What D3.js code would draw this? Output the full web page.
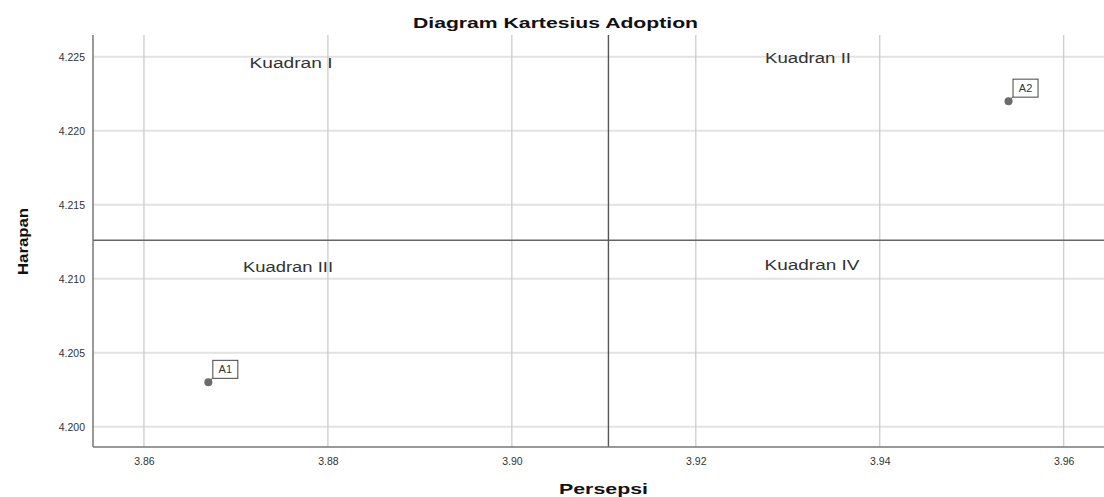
<!DOCTYPE html>
<html><head><meta charset="utf-8">
<script src="https://cdn.jsdelivr.net/npm/d3@7"></script>
<style>body{margin:0;background:#fff}svg{display:block;font-family:"Liberation Sans",Arial,sans-serif}</style>
</head><body><svg id="c" width="1104" height="497"></svg>
<script>
const pointLabels = ["A1", "A2"];
const persepsi = [3.867, 3.954];
const harapan = [4.203, 4.222];
const meanPersepsi = 3.9105;
const meanHarapan = 4.2126;
const xTicks = [3.86, 3.88, 3.90, 3.92, 3.94, 3.96];
const yTicks = [4.200, 4.205, 4.210, 4.215, 4.220, 4.225];
const quadrantNames = ["Kuadran I", "Kuadran II", "Kuadran III", "Kuadran IV"];

const svg = d3.select("#c");
const L = 93, R = 1104, T = 35, B = 447;
const x = d3.scaleLinear().domain([3.85446, 3.96438]).range([L, R]);
const y = d3.scaleLinear().domain([4.19863, 4.22647]).range([B, T]);

// gridlines
svg.append("g").selectAll("line").data(yTicks).join("line")
  .attr("x1", L).attr("x2", R).attr("y1", d => y(d)).attr("y2", d => y(d))
  .attr("stroke", "#e2e2e2").attr("stroke-width", 2);
svg.append("g").selectAll("line").data(xTicks).join("line")
  .attr("x1", d => x(d)).attr("x2", d => x(d)).attr("y1", T).attr("y2", B)
  .attr("stroke", "#c8c8c8").attr("stroke-width", 1.2);

// reference lines
svg.append("line").attr("x1", L).attr("x2", R).attr("y1", y(meanHarapan)).attr("y2", y(meanHarapan))
  .attr("stroke", "#666").attr("stroke-width", 1.4);
svg.append("line").attr("x1", x(meanPersepsi)).attr("x2", x(meanPersepsi)).attr("y1", T).attr("y2", B)
  .attr("stroke", "#555").attr("stroke-width", 1.4);

// axes
const xAxis = d3.axisBottom(x).tickValues(xTicks).tickFormat(d3.format(".2f")).tickSize(0).tickPadding(11);
const yAxis = d3.axisLeft(y).tickValues(yTicks).tickFormat(d3.format(".3f")).tickSize(0).tickPadding(8);
const gx = svg.append("g").attr("transform", `translate(0,${B})`).call(xAxis);
const gy = svg.append("g").attr("transform", `translate(${L},0)`).call(yAxis);
[gx, gy].forEach(g => {
  g.select(".domain").attr("stroke", "#777").attr("stroke-width", 1.5);
  g.selectAll("text").attr("fill", "#333").attr("font-size", 10.5)
   .attr("font-family", "'Liberation Sans',Arial,sans-serif");
});
gx.select(".domain").attr("d", `M${L},0H${R}`);
gy.select(".domain").attr("d", `M0,${T}V${B}`);

// quadrant labels
const qPos = [[291, 63], [808, 58], [288, 267], [812, 265]];
const qLen = [83, 86, 90, 95];
svg.append("g").selectAll("text").data(quadrantNames).join("text")
  .attr("x", (d, i) => qPos[i][0]).attr("y", (d, i) => qPos[i][1])
  .attr("text-anchor", "middle").attr("dominant-baseline", "central")
  .attr("font-size", 14).attr("fill", "#333")
  .attr("textLength", (d, i) => qLen[i]).attr("lengthAdjust", "spacingAndGlyphs")
  .text(d => d);

// points
const pts = pointLabels.map((l, i) => ({l, px: persepsi[i], py: harapan[i]}));
const g = svg.append("g").selectAll("g").data(pts).join("g")
  .attr("transform", d => `translate(${x(d.px)},${y(d.py)})`);
g.append("line").attr("x1", 0).attr("y1", 0).attr("x2", 4.5).attr("y2", -4.5).attr("stroke", "#333").attr("stroke-width", 1);
g.append("rect").attr("x", 4.5).attr("y", -22).attr("width", 25).attr("height", 18)
  .attr("fill", "#fff").attr("stroke", "#444").attr("stroke-width", 1);
g.append("circle").attr("r", 4).attr("fill", "#6b6b6b");
g.append("text").attr("x", 17).attr("y", -13).attr("text-anchor", "middle").attr("dominant-baseline", "central")
  .attr("font-size", 11).attr("fill", "#333").text(d => d.l);

// titles
svg.append("text").attr("x", 555.5).attr("y", 22).attr("text-anchor", "middle").attr("dominant-baseline", "central")
  .attr("font-size", 15).attr("font-weight", "bold").attr("fill", "#111")
  .attr("textLength", 285).attr("lengthAdjust", "spacingAndGlyphs").text("Diagram Kartesius Adoption");
svg.append("text").attr("x", 603.5).attr("y", 488).attr("text-anchor", "middle").attr("dominant-baseline", "central")
  .attr("font-size", 15).attr("font-weight", "bold").attr("fill", "#111")
  .attr("textLength", 89).attr("lengthAdjust", "spacingAndGlyphs").text("Persepsi");
svg.append("text").attr("transform", "translate(22,241.5) rotate(-90)").attr("text-anchor", "middle").attr("dominant-baseline", "central")
  .attr("font-size", 15).attr("font-weight", "bold").attr("fill", "#111")
  .attr("textLength", 67).attr("lengthAdjust", "spacingAndGlyphs").text("Harapan");
</script></body></html>
